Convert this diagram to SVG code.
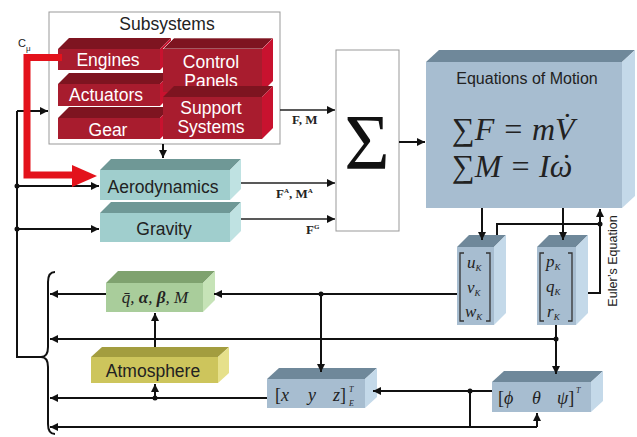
<svg xmlns="http://www.w3.org/2000/svg" width="637" height="437" viewBox="0 0 637 437">
<defs>
<marker id="a" viewBox="0 0 10 10" refX="10" refY="5" markerWidth="9" markerHeight="8" markerUnits="userSpaceOnUse" orient="auto"><path d="M0,0L10,5L0,10z" fill="#111"/></marker>
<style>
.lbl{font-family:"Liberation Sans",Arial,sans-serif;font-size:17.5px;text-anchor:middle}
.w{fill:#fff}.k{fill:#222}
.m{font-family:"Liberation Serif","Times New Roman",serif;font-style:italic;fill:#222}
.b{font-family:"Liberation Serif","Times New Roman",serif;font-weight:bold;fill:#222;font-size:13px}
.ln{stroke:#111;stroke-width:2;fill:none}
.ln1{stroke:#222;stroke-width:1.4;fill:none}
.rf{fill:#a81c2e}.rt{fill:#7e1420}.rs{fill:#c8122f}
.tf{fill:#a0cecd}.tt{fill:#6f9896}.ts{fill:#bfe2e2}
.bf{fill:#a7bdd0}.bt{fill:#6f889a}.bs{fill:#c4d9e9}
.gf{fill:#a9cd9b}.gt{fill:#7fa26f}.gs{fill:#c6e3b7}
.yf{fill:#cdc55c}.yt{fill:#a39d3f}.ys{fill:#e6e08a}
.br{stroke:#333;stroke-width:1.3;fill:none}
.dot{fill:#111}
</style>
</defs>
<rect width="637" height="437" fill="#fff"/>

<g id="subsystems">
<rect x="49" y="12" width="231" height="132" fill="#fff" stroke="#999" stroke-width="1"/>
<text class="lbl k" x="167" y="30">Subsystems</text>
</g>
<g id="engines">
<polygon class="rt" points="58,49 69,38 171,38 160,49"/><polygon class="rs" points="160,49 171,38 171,59 160,70"/>
<rect class="rf" x="58" y="49" width="102" height="21"/>
<text class="lbl w" x="108" y="66">Engines</text>
</g>
<g id="actuators">
<polygon class="rt" points="58,84 69,73 171,73 160,84"/><polygon class="rs" points="160,84 171,73 171,95 160,106"/>
<rect class="rf" x="58" y="84" width="102" height="22"/>
<text class="lbl w" x="106" y="101">Actuators</text>
</g>
<g id="gear">
<polygon class="rt" points="58,118 69,107 171,107 160,118"/><polygon class="rs" points="160,118 171,107 171,128 160,139"/>
<rect class="rf" x="58" y="118" width="102" height="21"/>
<text class="lbl w" x="108" y="136">Gear</text>
</g>
<g id="control-panels">
<polygon class="rt" points="163,49 174,38 273,38 262,49" stroke="#fff" stroke-width="0.6"/><polygon class="rs" points="262,49 273,38 273,81 262,92"/>
<rect class="rf" x="163" y="49" width="99" height="43"/>
<text class="lbl w" x="211" y="68">Control</text>
<text class="lbl w" x="211" y="87">Panels</text>
</g>
<g id="support-systems">
<polygon class="rt" points="163,97 174,86 273,86 262,97"/><polygon class="rs" points="262,97 273,86 273,128 262,139"/>
<rect class="rf" x="163" y="97" width="99" height="42"/>
<text class="lbl w" x="211" y="114">Support</text>
<text class="lbl w" x="211" y="133">Systems</text>
</g>

<g id="aerodynamics">
<polygon class="tt" points="100,170 111,159 241,159 230,170"/><polygon class="ts" points="230,170 241,159 241,189 230,200"/>
<rect class="tf" x="100" y="170" width="130" height="30"/>
<text class="lbl k" x="163" y="193">Aerodynamics</text>
</g>
<g id="gravity">
<polygon class="tt" points="100,213 111,202 241,202 230,213"/><polygon class="ts" points="230,213 241,202 241,231 230,242"/>
<rect class="tf" x="100" y="213" width="130" height="29"/>
<text class="lbl k" x="164" y="235">Gravity</text>
</g>

<g id="sum">
<rect x="336" y="50" width="63" height="181" fill="#fff" stroke="#999" stroke-width="1"/>
<text x="367" y="168" font-family="'Liberation Serif','Times New Roman',serif" font-size="78" text-anchor="middle" fill="#111">Σ</text>
</g>

<g id="equations-of-motion">
<polygon class="bt" points="426,62 439,50 635,50 622,62"/><polygon class="bs" points="622,62 635,50 635,196 622,208"/>
<rect class="bf" x="426" y="62" width="196" height="146"/>
<text x="527" y="84" font-family="'Liberation Sans',Arial,sans-serif" font-size="16" text-anchor="middle" fill="#222">Equations of Motion</text>
<text class="m" x="452" y="140" font-size="32"><tspan font-style="normal">∑</tspan>F = mV̇</text>
<text class="m" x="452" y="177" font-size="32"><tspan font-style="normal">∑</tspan>M = Iω<tspan dx="-13" dy="-1">˙</tspan></text>
</g>

<g id="uvw">
<polygon class="bt" points="457,247 469,235 506,235 494,247"/><polygon class="bs" points="494,247 506,235 506,313 494,325"/>
<rect class="bf" x="457" y="247" width="37" height="78"/>
<path class="br" d="M464,253H460V321H464M486,253H490V321H486"/>
<text class="m" x="467" y="268" font-size="17">u<tspan font-size="9" dy="3">K</tspan></text>
<text class="m" x="467" y="293" font-size="17">v<tspan font-size="9" dy="3">K</tspan></text>
<text class="m" x="465" y="317" font-size="17">w<tspan font-size="9" dy="3">K</tspan></text>
</g>
<g id="pqr">
<polygon class="bt" points="537,247 549,235 588,235 576,247"/><polygon class="bs" points="576,247 588,235 588,313 576,325"/>
<rect class="bf" x="537" y="247" width="39" height="78"/>
<path class="br" d="M544,253H540V321H544M568,253H572V321H568"/>
<text class="m" x="546" y="267" font-size="17">p<tspan font-size="9" dy="3">K</tspan></text>
<text class="m" x="546" y="292" font-size="17">q<tspan font-size="9" dy="3">K</tspan></text>
<text class="m" x="547" y="317" font-size="17">r<tspan font-size="9" dy="3">K</tspan></text>
</g>
<text id="euler-label" transform="translate(617,261) rotate(-90)" font-family="'Liberation Sans',Arial,sans-serif" font-size="12.5" text-anchor="middle" fill="#222">Euler’s Equation</text>

<g id="air-data">
<polygon class="gt" points="106,283 118,271 215,271 203,283"/><polygon class="gs" points="203,283 215,271 215,300 203,312"/>
<rect class="gf" x="106" y="283" width="97" height="29"/>
<text class="m" x="155" y="303" font-size="17" text-anchor="middle">q̄, <tspan font-weight="bold">α</tspan>, <tspan font-weight="bold">β</tspan>, M</text>
</g>
<g id="atmosphere">
<polygon class="yt" points="91,357 102,347 229,347 218,357"/><polygon class="ys" points="218,357 229,347 229,373 218,383"/>
<rect class="yf" x="91" y="357" width="127" height="26"/>
<text class="lbl k" x="153" y="377">Atmosphere</text>
</g>
<g id="position">
<polygon class="bt" points="267,379 279,368 377,368 365,379"/><polygon class="bs" points="365,379 377,368 377,397 365,408"/>
<rect class="bf" x="267" y="379" width="98" height="29"/>
<text class="m" x="275" y="401" font-size="18"><tspan font-style="normal">[</tspan>x<tspan x="308">y</tspan><tspan x="333">z</tspan><tspan font-style="normal">]</tspan></text>
<text class="m" x="349" y="392" font-size="8">T</text>
<text class="m" x="349" y="406" font-size="8">E</text>
</g>
<g id="attitude">
<polygon class="bt" points="492,382 504,371 603,371 591,382"/><polygon class="bs" points="591,382 603,371 603,401 591,412"/>
<rect class="bf" x="492" y="382" width="99" height="30"/>
<text class="m" x="498" y="404" font-size="18"><tspan font-style="normal">[</tspan>ϕ<tspan x="532">θ</tspan><tspan x="557">ψ</tspan><tspan font-style="normal">]</tspan></text>
<text class="m" x="576" y="393" font-size="8">T</text>
</g>

<g id="connectors">
<path class="ln" d="M17,111V357H43"/>
<path class="ln" d="M17,111H48" marker-end="url(#a)"/>
<path class="ln" d="M17,186H99" marker-end="url(#a)"/>
<path class="ln" d="M17,229H99" marker-end="url(#a)"/>
<circle class="dot" cx="17" cy="186" r="2.5"/><circle class="dot" cx="17" cy="229" r="2.5"/>
<path class="ln" d="M55,272Q48,272 48,282V347Q48,357 41,357Q48,357 48,367V424Q48,434 55,434"/>
<path class="ln" d="M163,144V158" marker-end="url(#a)"/>
<path class="ln1" d="M280,110H335" marker-end="url(#a)"/>
<path class="ln1" d="M241,183H335" marker-end="url(#a)"/>
<path class="ln1" d="M241,219H335" marker-end="url(#a)"/>
<text class="b" x="292" y="124">F, M</text>
<text class="b" x="276" y="198">F<tspan font-size="7" dy="-5">A</tspan><tspan dy="5">, M</tspan><tspan font-size="7" dy="-5">A</tspan></text>
<text class="b" x="306" y="234">F<tspan font-size="7" dy="-5">G</tspan></text>
<path class="ln" d="M399,142H425" marker-end="url(#a)"/>
<path class="ln" d="M482,208V240" marker-end="url(#a)"/>
<path class="ln" d="M563,208V240" marker-end="url(#a)"/>
<path class="ln" d="M588,293H600V209" marker-end="url(#a)"/>
<path class="ln" d="M497,235V224H600"/>
<circle class="dot" cx="600" cy="224" r="2.5"/>
<path class="ln" d="M457,294H214" marker-end="url(#a)"/>
<circle class="dot" cx="321" cy="294" r="2.5"/>
<path class="ln" d="M321,294V372" marker-end="url(#a)"/>
<path class="ln" d="M106,294H50" marker-end="url(#a)"/>
<path class="ln" d="M155,347V313" marker-end="url(#a)"/>
<path class="ln" d="M556,325V374" marker-end="url(#a)"/>
<circle class="dot" cx="556" cy="339" r="2.5"/>
<path class="ln" d="M556,339H50" marker-end="url(#a)"/>
<path class="ln" d="M267,398H50" marker-end="url(#a)"/>
<circle class="dot" cx="155" cy="398" r="2.5"/>
<path class="ln" d="M155,398V384" marker-end="url(#a)"/>
<path class="ln" d="M492,391H373" marker-end="url(#a)"/>
<circle class="dot" cx="470" cy="391" r="2.5"/>
<path class="ln" d="M470,391V427"/>
<path class="ln" d="M537,427H50" marker-end="url(#a)"/>
<path class="ln" d="M537,427V413" marker-end="url(#a)"/>
<path d="M62,57.5H27V175H74" fill="none" stroke="#e3121b" stroke-width="7"/>
<polygon points="72,165 97,176 72,187" fill="#e3121b"/>
<text x="18" y="47" font-family="'Liberation Sans',Arial,sans-serif" font-size="11" fill="#222">C<tspan font-size="8" dy="4">μ</tspan></text>
</g>
</svg>
